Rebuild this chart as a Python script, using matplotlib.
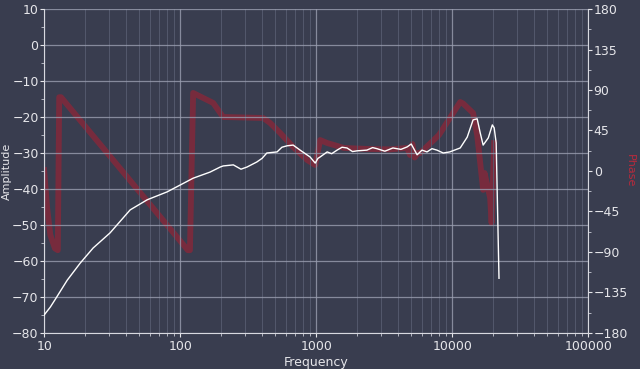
import numpy as np
import matplotlib
matplotlib.use("Agg")
import matplotlib.pyplot as plt
from matplotlib.ticker import FixedLocator, NullFormatter, LogLocator, MultipleLocator

# amplitude response (dB)
amp_freq = [10, 11.1, 12.0, 14.8, 18.4, 22.9, 30.5, 42.9, 57.2, 80.2, 100, 124.6,
            166, 197, 207, 246, 280, 310, 366, 400, 434, 516, 560, 611, 677, 762, 902, 984,
            1030, 1070, 1205, 1300, 1425, 1550, 1685, 1850, 2000, 2362, 2600, 2800, 3200, 3668,
            4200, 4670, 5000, 5525, 6000, 6533, 7100, 7725, 8600, 9597, 11460, 12900,
            14250, 15270, 16080, 16900, 18440, 19740, 20360, 21070, 22100]
amp_db = [-75, -72.8, -70.8, -65.3, -60.6, -56.4, -52.2, -45.8, -43, -40.8, -38.9, -37,
          -35.3, -33.9, -33.6, -33.3, -34.5, -33.9, -32.5, -31.5, -30, -29.7, -28.4, -28, -27.8, -29.2, -31.1, -32.8,
          -31.5, -31.1, -29.7, -30.2, -29.2, -28.4, -28.6, -29.6, -29.4, -29.2, -28.5, -28.8, -29.5, -28.6,
          -29.0, -28.3, -27.5, -30.5, -29.2, -29.7, -28.8, -29.2, -30.0, -29.7, -28.6, -25.6,
          -20.8, -20.5, -24.4, -27.8, -25.8, -22.2, -23, -27.2, -64.8]

# phase response (degrees)
ph_freq = [10, 10.5, 11.1, 12.0, 12.6, 12.9, 13.3, 114, 118, 124.6, 175, 207,
           408, 459, 544, 677, 859, 984, 1070, 1205, 1600, 2400, 3500, 4670,
           4900, 5100, 5300, 5620, 5820, 8000, 11460, 12030, 14250, 15270,
           16900, 17300, 19020, 19500, 20360]
ph_deg = [1, -40, -71, -86, -88, 82, 82, -88, -88, 86.7, 75.6, 60,
          58.9, 53.3, 42.2, 26.7, 12.2, 6.7, 34.4, 31.1, 25.6, 24.5, 24, 25.6,
          17.8, 30, 15, 20, 20, 40, 76.7, 75, 64.4, 40,
          -21, -2.2, -30, -57.8, 31]

fig_bg = '#393d4f'
ax_bg = '#41465a'
txt = '#e6e6ea'

fig = plt.figure(figsize=(6.4, 3.69), dpi=100, facecolor=fig_bg)
ax = fig.add_axes([0.069, 0.0976, 0.85, 0.878])
ax2 = ax.twinx()

ax.set_xscale('log')
ax.set_xlim(10, 100000)
ax.set_ylim(-80, 10)
ax2.set_ylim(-180, 180)

ax.xaxis.set_major_locator(FixedLocator([10, 100, 1000, 10000, 100000]))
ax.set_xticklabels(['10', '100', '1000', '10000', '100000'])
ax.xaxis.set_minor_locator(LogLocator(base=10, subs=np.arange(2, 10)))
ax.xaxis.set_minor_formatter(NullFormatter())
ax.yaxis.set_major_locator(MultipleLocator(10))
ax.yaxis.set_minor_locator(MultipleLocator(5))
ax2.yaxis.set_major_locator(MultipleLocator(45))
ax2.yaxis.set_minor_locator(MultipleLocator(22.5))

ax.grid(which='major', color='#9a9eb0', lw=0.9, alpha=0.8)
ax.grid(which='minor', axis='x', color='#585d71', lw=0.6)

# phase drawn on the twin axis, behind the amplitude trace
ax.set_zorder(ax2.get_zorder() + 1)
ax.patch.set_visible(False)
ax2.set_facecolor(ax_bg)
ax2.plot(ph_freq, ph_deg, color='#7e2a3c', lw=4.2, alpha=0.9, zorder=2)
ax.plot(amp_freq, amp_db, color='white', lw=1.0, zorder=3)

for a in (ax, ax2):
    for s in a.spines.values():
        s.set_visible(False)
    a.tick_params(colors=txt, labelsize=9, length=3, width=0.8)
    a.tick_params(which='minor', colors='#c8cad4', length=2)
ax.spines['left'].set_visible(True)
ax.spines['bottom'].set_visible(True)
ax.spines['left'].set_color('#d8d9e0')
ax.spines['bottom'].set_color('#d8d9e0')
ax2.spines['right'].set_visible(True)
ax2.spines['right'].set_color('#d8d9e0')
ax.tick_params(axis='x', pad=2)
ax.tick_params(axis='y', pad=1)
ax2.tick_params(axis='y', pad=1)

ax.set_xlabel('Frequency', color=txt, fontsize=9, labelpad=2)
ax.set_ylabel('Amplitude', color=txt, fontsize=8)
ax.yaxis.set_label_coords(-0.059, 0.5)
ax2.set_ylabel('Phase', color='#b82a3c', fontsize=8, rotation=270, va='center')
ax2.yaxis.set_label_coords(1.077, 0.5)

fig.savefig('out.png', dpi=100, facecolor=fig_bg)
